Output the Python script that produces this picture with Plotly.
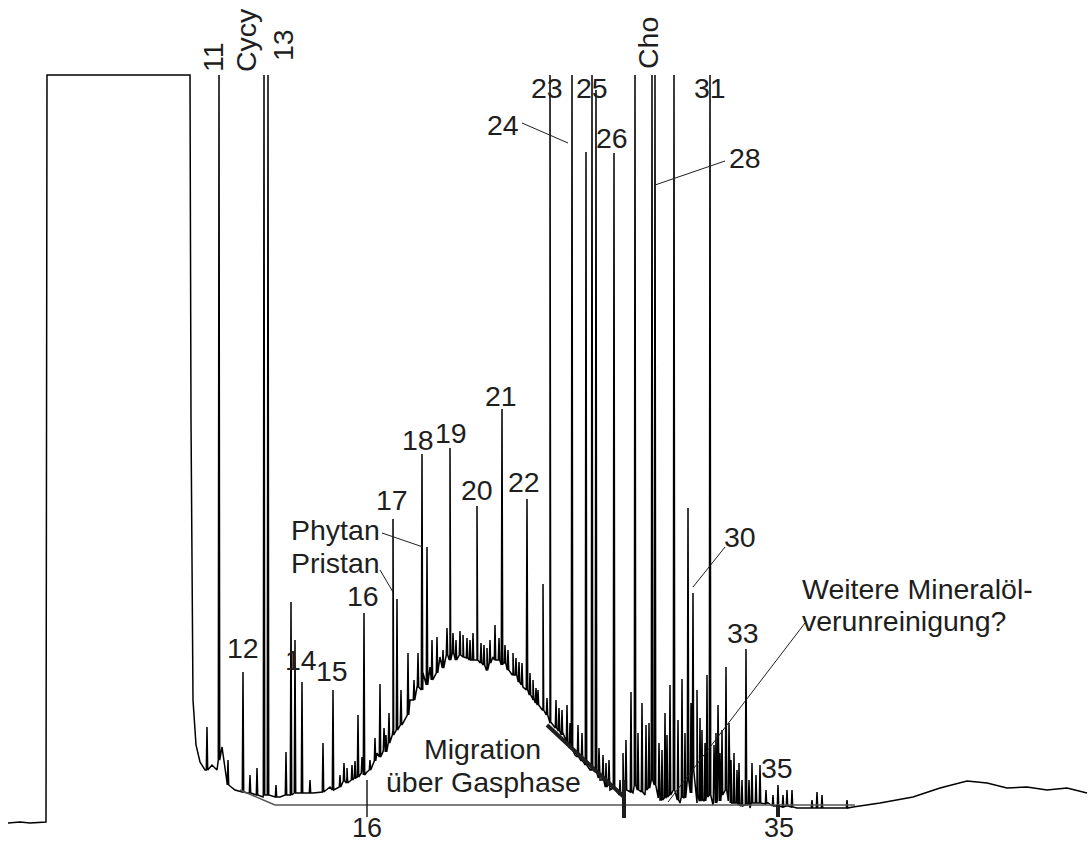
import plotly.graph_objects as go

# ---- data (x = retention scan, y = detector signal) ----
base_x = [8, 20, 30, 46, 47, 190, 191, 193, 196, 200, 205, 212, 217, 222, 226, 235, 247, 263,
          280, 297, 313, 330, 347, 363, 367, 377, 387, 393, 403, 410, 417, 423, 430, 440, 450,
          463, 477, 487, 493, 503, 513, 523, 533, 543, 550, 563, 575, 590, 600, 610, 623, 633,
          645, 660, 680, 697, 713, 733, 750, 767, 797, 823, 853, 880, 913, 940, 967, 987, 1007,
          1027, 1047, 1067, 1087]
base_y = [0, 1, 0, 1, 748, 748, 403, 123, 78, 61, 53, 58, 53, 76, 48, 33, 30, 26,
          26, 30, 30, 36, 46, 53, 51, 70, 73, 93, 100, 123, 136, 150, 156, 166, 170,
          166, 163, 153, 166, 160, 150, 136, 123, 113, 100, 90, 68, 53, 43, 33, 30, 30,
          28, 23, 20, 20, 18, 20, 15, 21, 15, 15, 16, 20, 26, 35, 42, 40, 35,
          36, 33, 35, 30]

# major (labelled and tall) peaks
peak_x = [207, 219, 228, 243, 250, 257, 264, 268, 276, 286, 291, 295, 302, 310, 323, 333, 340,
          347, 352, 358, 364, 370, 380, 386, 393, 397, 401, 408, 414, 422, 427, 432, 437, 443,
          450, 456, 463, 470, 477, 484, 490, 495, 502, 508, 513, 519, 527, 533, 538, 543, 550,
          556, 562, 567, 572, 578, 586, 592, 596, 603, 609, 614, 620, 626, 631, 635, 642, 646,
          652, 655, 662, 667, 670, 674, 678, 682, 688, 693, 697, 702, 707, 710, 714, 718, 722,
          726, 731, 737, 742, 746, 749, 752, 756, 760, 766, 773, 778, 783, 787, 792, 812, 817,
          822, 847]
peak_top = [96, 748, 63, 151, 48, 55, 748, 748, 38, 71, 221, 183, 141, 43, 80, 133, 48,
            55, 58, 108, 210, 63, 139, 88, 304, 224, 133, 170, 143, 369, 276, 183, 186, 173,
            375, 183, 188, 183, 317, 178, 183, 198, 414, 173, 170, 161, 324, 143, 133, 239, 748,
            123, 113, 118, 748, 98, 671, 748, 733, 68, 63, 670, 43, 83, 131, 748, 120, 98,
            748, 748, 73, 88, 138, 748, 103, 144, 315, 230, 133, 93, 148, 748, 78, 118, 93,
            156, 63, 53, 43, 174, 43, 60, 48, 58, 33, 28, 38, 28, 33, 33, 23, 31,
            28, 23]
peak_base = [53, 63, 38, 31, 30, 28, 28, 28, 26, 28, 28, 30, 30, 30, 31, 33, 36,
             40, 43, 46, 48, 53, 66, 71, 88, 93, 98, 108, 123, 133, 138, 143, 150, 155,
             163, 163, 166, 163, 163, 158, 160, 163, 158, 153, 148, 141, 133, 125, 118, 113, 101,
             95, 88, 81, 73, 66, 58, 53, 51, 43, 38, 35, 28, 33, 31, 38, 31, 33,
             43, 38, 23, 26, 28, 33, 23, 26, 43, 53, 28, 23, 26, 28, 20, 23, 28,
             33, 20, 20, 17, 18, 19, 20, 20, 20, 19, 17, 17, 16, 17, 16, 15, 15,
             15, 15]

# minor noise peaks on the hump and in the late cluster
minor_x = [344, 355, 362, 375, 384, 389, 418, 447, 453, 460, 467, 473, 481, 487, 499, 505,
           516, 522, 530, 536, 547, 559, 570, 582, 599, 606, 623, 638, 649, 659, 665, 685,
           691, 700, 705, 716, 720, 729, 734, 739]
minor_top = [60, 62, 66, 85, 95, 110, 170, 195, 190, 192, 185, 190, 180, 175, 185, 178,
             165, 160, 150, 135, 125, 115, 100, 90, 75, 60, 70, 90, 100, 80, 110, 90,
             120, 105, 80, 90, 70, 100, 70, 60]
minor_base = [42, 45, 50, 62, 72, 80, 136, 168, 170, 168, 165, 163, 160, 153, 163, 160,
              148, 138, 128, 120, 108, 92, 75, 62, 45, 36, 30, 33, 35, 25, 25, 25,
              30, 22, 22, 20, 22, 22, 20, 18]

labels = ["11", "Cycy", "13", "Cho", "23", "25", "31", "24", "26", "28", "21", "18", "19",
          "17", "20", "22", "Phytan", "Pristan", "16", "12", "14", "15", "30", "33", "35"]
label_x = [213, 246, 283, 648, 547, 592, 710, 503, 612, 745, 501, 418, 451,
           392, 477, 524, 335, 335, 363, 243, 301, 332, 740, 743, 777]
label_y = [766, 783, 778, 780, 735, 735, 735, 698, 685, 665, 427, 383, 390,
           323, 333, 341, 293, 260, 227, 175, 163, 152, 286, 190, 55]
label_rot = [-90, -90, -90, -90] + [0] * 21

# retention marks under the baseline
mark_labels = ["16", "35"]
mark_x = [367, 779]

# ---- build the trace vertices ----
pts = [(x, y, 0) for x, y in zip(base_x, base_y)]
for xs, ts, bs in ((peak_x, peak_top, peak_base), (minor_x, minor_top, minor_base)):
    for x, t, b in zip(xs, ts, bs):
        pts += [(x - 0.7, b, 1), (x, t, 2), (x + 0.7, b, 3)]
pts.sort(key=lambda p: (p[0], p[2]))
tx = [p[0] for p in pts]
ty = [p[1] for p in pts]

fig = go.Figure()
fig.add_trace(go.Scatter(x=tx, y=ty, mode="lines",
                         line=dict(color="black", width=1.5), hoverinfo="skip"))

FONT = dict(family="Liberation Sans, Arial, Helvetica, sans-serif", size=28.5, color="#1e1e1e")
for t, x, y, r in zip(labels, label_x, label_y, label_rot):
    fig.add_annotation(x=x, y=y, text=t, showarrow=False, textangle=r,
                       xanchor="center", yanchor="middle", font=FONT)
MARK_FONT = dict(FONT, size=27)
for t, x in zip(mark_labels, mark_x):
    fig.add_annotation(x=x, y=-20, text=t, showarrow=False, font=MARK_FONT,
                       xanchor="center", yanchor="bottom", yshift=-1, borderpad=0)

fig.add_annotation(x=482, y=74, text="Migration", showarrow=False, font=FONT,
                   xanchor="center", yanchor="middle")
fig.add_annotation(x=483, y=41, text="über Gasphase", showarrow=False, font=FONT,
                   xanchor="center", yanchor="middle")
fig.add_annotation(x=800, y=234, text="Weitere Mineralöl-", showarrow=False, font=FONT,
                   xanchor="left", yanchor="middle")
fig.add_annotation(x=800, y=202, text="verunreinigung?", showarrow=False, font=FONT,
                   xanchor="left", yanchor="middle")

def seg(x0, y0, x1, y1, w=1.0, c="#1e1e1e"):
    fig.add_shape(type="line", x0=x0, y0=y0, x1=x1, y1=y1, xref="x", yref="y",
                  line=dict(color=c, width=w))

# leader lines
seg(522, 700, 568, 680)
seg(725, 662, 655, 638)
seg(382, 290, 423, 276)
seg(380, 253, 393, 231)
seg(725, 276, 693, 236)
seg(805, 200, 668, 21)
# reference baseline
seg(240, 33, 275, 18, 1.5, "#555555")
seg(275, 18, 855, 18, 1.5, "#555555")
# migration slope and markers
seg(547, 98, 624, 26, 4, "#1e1e1e")
seg(624, 43, 624, 5, 4, "#1e1e1e")
seg(367, 43, 367, 6, 1.5, "#1e1e1e")
seg(778, 18, 778, 6, 4, "#1e1e1e")

fig.update_layout(width=1088, height=843, margin=dict(l=0, r=0, t=0, b=0),
                  paper_bgcolor="white", plot_bgcolor="white", showlegend=False,
                  xaxis=dict(range=[0, 1088], visible=False, fixedrange=True),
                  yaxis=dict(range=[-20, 823], visible=False, fixedrange=True))
fig.write_html("out.html", config={"displayModeBar": False})
